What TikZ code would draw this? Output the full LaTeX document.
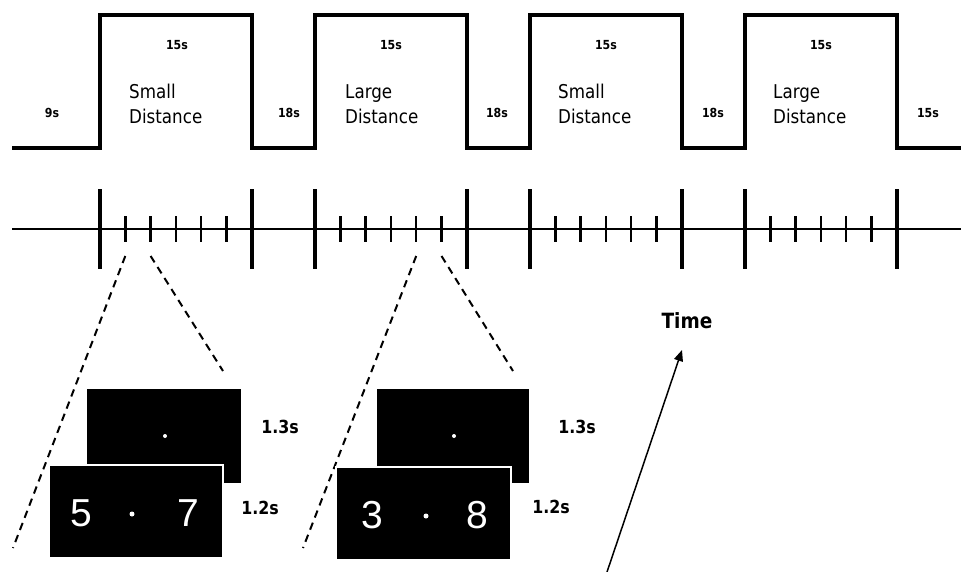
\documentclass[tikz,border=0pt]{standalone}
\usepackage{fontspec}
\setmainfont{Liberation Sans}
\newfontfamily\labfont[FakeStretch=0.88]{DejaVu Sans}
\usetikzlibrary{arrows.meta}
\begin{document}
\begin{tikzpicture}[x=1pt,y=-1pt,
  wave/.style={line width=3.2pt, line join=miter},
  axisline/.style={line width=2.4pt},
  bigtick/.style={line width=3.4pt},
  smalltick/.style={line width=2.4pt},
  guide/.style={line width=2pt, dash pattern=on 7.5pt off 5.5pt},
  backscreen/.style={fill=black},
  frontscreen/.style={fill=black, draw=white, line width=1.4pt},
  dur/.style={font=\labfont\bfseries\fontsize{12.5}{14}\selectfont, inner sep=0},
  cond/.style={font=\labfont\fontsize{19}{25}\selectfont, align=left, anchor=west, inner sep=0},
  lab/.style={font=\labfont\bfseries\fontsize{18}{20}\selectfont, inner sep=0},
  digit/.style={text=white, font=\fontsize{39}{40}\selectfont, inner sep=0},
  wdot/.style={fill=white, draw=none}]
\useasboundingbox (0,0) rectangle (961,571);
% block wave
\draw[wave] (12,148) -- (100,148) -- (100,15) -- (252,15) -- (252,148)
  -- (315,148) -- (315,15) -- (467,15) -- (467,148)
  -- (530,148) -- (530,15) -- (682,15) -- (682,148)
  -- (745,148) -- (745,15) -- (897,15) -- (897,148) -- (961,148);
% durations
\node[dur] (d0) at (52,113) {9s};
\node[dur] (d1) at (177,45) {15s};
\node[dur] (g1) at (289,113) {18s};
\node[dur] (d2) at (391,45) {15s};
\node[dur] (g2) at (497,113) {18s};
\node[dur] (d3) at (606,45) {15s};
\node[dur] (g3) at (713,113) {18s};
\node[dur] (d4) at (821,45) {15s};
\node[dur] (g4) at (928,113) {15s};
% conditions
\node[cond] (c1) at (129,104) {Small\\Distance};
\node[cond] (c2) at (345,104) {Large\\Distance};
\node[cond] (c3) at (558,104) {Small\\Distance};
\node[cond] (c4) at (773,104) {Large\\Distance};
% timeline
\draw[axisline] (12,229) -- (961,229);
\foreach \x in {100,252,315,467,530,682,745,897}
  \draw[bigtick] (\x,189) -- (\x,269);
\foreach \b in {100,315,530,745}
  \foreach \k in {1,...,5}
    \draw[smalltick] (\b+25.3*\k,216) -- (\b+25.3*\k,242);
% guide coordinates
\coordinate (a1) at (125.3,256);
\coordinate (a2) at (150.6,256);
\coordinate (b1) at (416.2,256);
\coordinate (b2) at (441.5,256);
\coordinate (a1e) at (13,548);
\coordinate (a2e) at (223,371);
\coordinate (b1e) at (303,548);
\coordinate (b2e) at (513,371);
\draw[guide] (a1) -- (a1e);
\draw[guide] (a2) -- (a2e);
\draw[guide] (b1) -- (b1e);
\draw[guide] (b2) -- (b2e);
% screens block 1
\fill[backscreen] (87,389) rectangle (241,483);
\fill[wdot] (165,436) circle (2);
\filldraw[frontscreen] (49,465) rectangle (223,558);
\node[digit] (n5) at (81,513) {5};
\fill[wdot] (132,514) circle (2.5);
\node[digit] (n7) at (188,513) {7};
\node[lab] (l13a) at (280,427) {1.3s};
\node[lab] (l12a) at (260,508) {1.2s};
% screens block 2
\fill[backscreen] (377,389) rectangle (529,483);
\fill[wdot] (454,436) circle (2);
\filldraw[frontscreen] (336,467) rectangle (511,560);
\node[digit] (n3) at (372,515) {3};
\fill[wdot] (426,516) circle (2.5);
\node[digit] (n8) at (477,515) {8};
\node[lab] (l13b) at (577,427) {1.3s};
\node[lab] (l12b) at (551,507) {1.2s};
% time arrow
\node[font=\labfont\bfseries\fontsize{21}{24}\selectfont, inner sep=0] (time) at (687,321) {Time};
\coordinate (tstart) at (607,572);
\coordinate (tend) at (682,350);
\draw[-{Triangle[length=11pt,width=9pt]}, line width=1.5pt] (tstart) -- (tend);
\end{tikzpicture}
\end{document}
